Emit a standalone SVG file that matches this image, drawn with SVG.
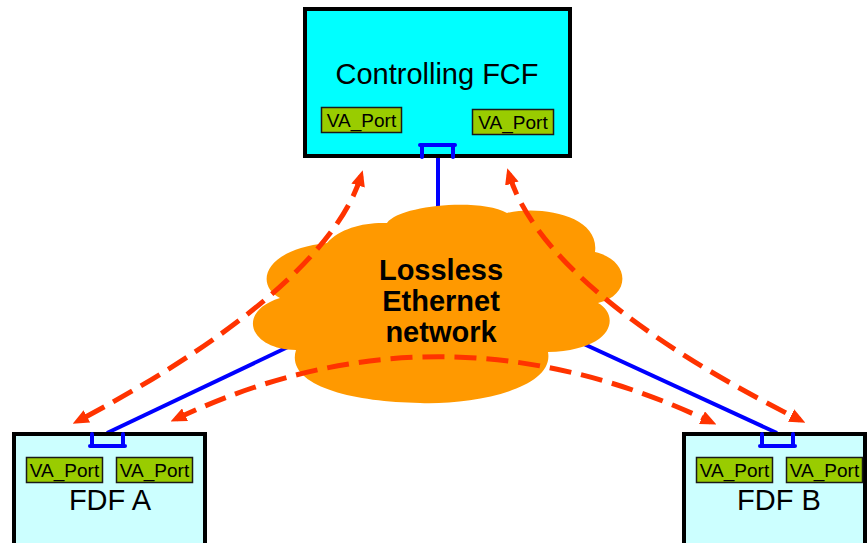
<svg xmlns="http://www.w3.org/2000/svg" width="867" height="543" viewBox="0 0 867 543">
  <style>
    .box { stroke: #000; stroke-width: 4; }
    .fcf { fill: #00FFFF; }
    .fdf { fill: #CCFFFF; }
    .port { fill: #99CC00; stroke: #1a1a1a; stroke-width: 1.5; }
    .port-text { font-family: "Liberation Sans", Arial, sans-serif; font-size: 19px; fill: #000; text-anchor: middle; }
    .title { font-family: "Liberation Sans", Arial, sans-serif; font-size: 29px; fill: #000; text-anchor: middle; }
    .cloud-text { font-family: "Liberation Sans", Arial, sans-serif; font-size: 29px; font-weight: bold; fill: #000; text-anchor: middle; }
    .link { stroke: #0000FF; stroke-width: 4; fill: none; }
    .bracket { stroke: #0000FF; stroke-width: 4; fill: none; stroke-linecap: round; }
    .flow { stroke: #FF3300; stroke-width: 5; fill: none; stroke-dasharray: 22 10; marker-start: url(#head); marker-end: url(#head); }
  </style>
  <defs>
    <marker id="head" markerUnits="userSpaceOnUse" viewBox="0 0 16 14" refX="10" refY="7" markerWidth="16" markerHeight="14" orient="auto-start-reverse">
      <path d="M0,0 L16,7 L0,14 z" fill="#FF3300"/>
    </marker>
  </defs>

  <!-- physical links: run under the cloud -->
  <g id="links">
    <line class="link" x1="438" y1="156" x2="438" y2="260"/>
    <line class="link" x1="107" y1="433" x2="330" y2="327"/>
    <line class="link" x1="777" y1="433" x2="560" y2="333"/>
  </g>

  <!-- network cloud -->
  <g id="cloud">
    <path fill="#FF9900" d="M387,223 C400,205 480,198 507,213 C540,205 600,215 595,252 C630,260 632,295 598,303 C620,315 615,350 548,352 C555,390 470,405 420,403 C350,402 285,385 296,350 C250,350 235,312 280,298 C255,285 262,250 327,243 C340,228 365,222 387,223 Z"/>
    <text class="cloud-text" x="441" y="280">Lossless</text>
    <text class="cloud-text" x="441" y="311">Ethernet</text>
    <text class="cloud-text" x="441" y="342">network</text>
  </g>

  <!-- controlling FCF -->
  <g id="fcf">
    <rect class="box fcf" x="305" y="9" width="265" height="147"/>
    <text class="title" x="437" y="84">Controlling FCF</text>
    <rect class="port" x="321.5" y="107.5" width="80" height="25"/>
    <text class="port-text" x="361.5" y="126.5">VA_Port</text>
    <rect class="port" x="472.5" y="109.5" width="81" height="25"/>
    <text class="port-text" x="513" y="128.5">VA_Port</text>
    <path class="bracket" d="M422,157 V145 H453 V157 M420,145 H455"/>
  </g>

  <!-- FDF A -->
  <g id="fdf-a">
    <rect class="box fdf" x="14" y="434" width="191" height="130"/>
    <path class="bracket" d="M92,434 V446 H123 V434 M90,446 H125"/>
    <rect class="port" x="26.5" y="457.5" width="76" height="25"/>
    <text class="port-text" x="64.5" y="476.5">VA_Port</text>
    <rect class="port" x="116.5" y="457.5" width="76" height="25"/>
    <text class="port-text" x="154.5" y="476.5">VA_Port</text>
    <text class="title" x="110" y="510">FDF A</text>
  </g>

  <!-- FDF B -->
  <g id="fdf-b">
    <rect class="box fdf" x="684" y="434" width="181" height="130"/>
    <path class="bracket" d="M762,434 V446 H793 V434 M760,446 H795"/>
    <rect class="port" x="696.5" y="457.5" width="76" height="25"/>
    <text class="port-text" x="734.5" y="476.5">VA_Port</text>
    <rect class="port" x="786.5" y="457.5" width="76" height="25"/>
    <text class="port-text" x="824.5" y="476.5">VA_Port</text>
    <text class="title" x="779" y="510">FDF B</text>
  </g>

  <!-- virtual links between VA_Ports -->
  <g id="connectors">
    <path class="flow" d="M361,176 C340,245 250,330 78,421"/>
    <path class="flow" d="M509,174 C530,245 620,330 800,420"/>
    <path class="flow" d="M176,419 Q440,293 711,422"/>
  </g>
</svg>
